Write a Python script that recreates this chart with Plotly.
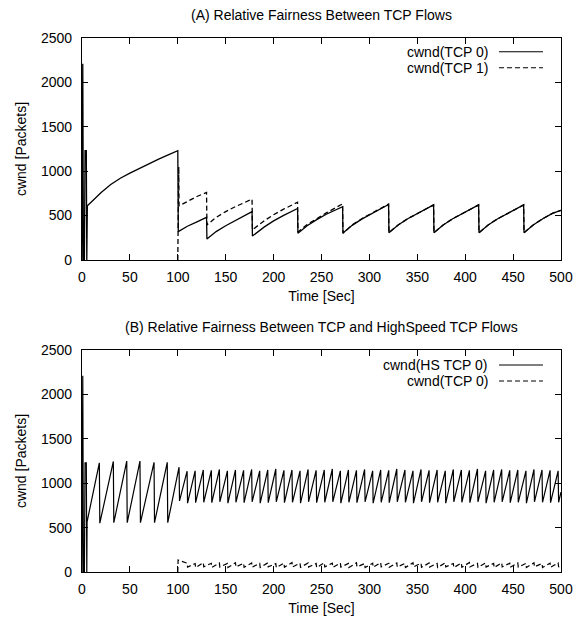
import plotly.graph_objects as go

# ---------------- (A) TCP vs TCP ----------------
tcp0_a_t = [0, 0.8, 1.5, 2.5, 3.2, 4.5, 5.0, 5.6,
            10, 20, 30, 40, 50, 60, 70, 80, 90, 100,
            100.5, 110, 120, 130,
            130.4, 140, 150, 160, 170, 177.5,
            177.9, 190, 200, 210, 225,
            225.4, 235, 245, 255, 265, 272,
            272.4, 282, 292, 302, 312, 320,
            320.4, 330, 340, 350, 360, 367,
            367.4, 377, 387, 397, 407, 414,
            414.4, 424, 434, 444, 454, 461,
            461.4, 471, 481, 491, 500]
tcp0_a_v = [0, 2210, 0, 0, 1230, 1230, 0, 610,
            655, 760, 850, 920, 978, 1032, 1085, 1135, 1183, 1230,
            320, 380, 430, 480,
            236, 320, 385, 445, 500, 545,
            270, 370, 440, 500, 580,
            300, 385, 455, 515, 570, 600,
            305, 390, 460, 520, 580, 625,
            308, 395, 465, 525, 580, 620,
            308, 395, 465, 525, 580, 620,
            308, 395, 465, 525, 580, 620,
            308, 395, 465, 525, 560]

tcp1_a_t = [100, 100.3, 101, 101.3, 110, 120, 130,
            130.4, 140, 150, 160, 170, 177.5,
            177.9, 190, 200, 210, 225,
            225.4, 235, 245, 255, 265, 272,
            272.4, 282, 292, 302, 312, 320,
            320.4, 330, 340, 350, 360, 367,
            367.4, 377, 387, 397, 407, 414,
            414.4, 424, 434, 444, 454, 461,
            461.4, 471, 481, 491, 500]
tcp1_a_v = [0, 1050, 1050, 610, 660, 715, 760,
            395, 480, 545, 600, 650, 685,
            340, 440, 510, 570, 650,
            315, 400, 470, 530, 590, 632,
            300, 395, 465, 525, 585, 630,
            308, 395, 465, 525, 580, 620,
            308, 395, 465, 525, 580, 620,
            308, 395, 465, 525, 580, 620,
            308, 395, 465, 525, 560]

# ---------------- (B) HighSpeed TCP vs TCP ----------------
hs_start_t = [0, 0.8, 1.5, 2.5, 3.2, 4.5, 5.0, 5.3]
hs_start_v = [0, 2210, 0, 0, 1230, 1230, 0, 565]

hs_peak_t = [18.1, 32.7, 46.7, 60.5, 75.2, 89.0,
             101.3, 109.7, 118.1, 126.6, 135.0, 143.4, 151.8, 160.2, 168.7, 177.1,
             185.5, 193.9, 202.3, 210.8, 219.2, 227.6, 236.0, 244.4, 252.9, 261.3,
             269.7, 278.1, 286.5, 295.0, 303.4, 311.8, 320.2, 328.6, 337.1, 345.5,
             353.9, 362.3, 370.7, 379.2, 387.6, 396.0, 404.4, 412.8, 421.3, 429.7,
             438.1, 446.5, 454.9, 463.4, 471.8, 480.2, 488.6, 497.0]
hs_peak_v = [1230, 1245, 1250, 1250, 1235, 1235,
             1180, 1135, 1140, 1150, 1145, 1155, 1140, 1150, 1145, 1155,
             1140, 1150, 1160, 1145, 1150, 1140, 1155, 1145, 1150, 1160,
             1140, 1150, 1145, 1155, 1140, 1150, 1145, 1160, 1150, 1140,
             1155, 1145, 1150, 1140, 1155, 1150, 1145, 1160, 1140, 1150,
             1155, 1145, 1150, 1140, 1155, 1150, 1145, 1140]
hs_low_v = [550, 555, 555, 555, 555, 555,
            800, 775, 780, 785, 780, 790, 775, 785, 780, 790,
            775, 780, 790, 780, 785, 775, 790, 780, 785, 790,
            775, 785, 780, 790, 775, 785, 780, 790, 785, 775,
            790, 780, 785, 775, 790, 785, 780, 790, 775, 785,
            790, 780, 785, 775, 790, 785, 780, 785]
hs_end_t = [500]
hs_end_v = [900]

tcp_b_start_t = [100, 100.3]
tcp_b_start_v = [0, 135]
tcp_b_peak_v = [100, 95, 105, 98, 102, 96, 104, 99, 101, 97,
                103, 95, 100, 106, 98, 102, 96, 104, 99, 101,
                97, 103, 95, 100, 106, 98, 102, 96, 104, 99,
                101, 97, 103, 95, 100, 106, 98, 102, 96, 104,
                99, 101, 97, 103, 95, 100, 102]
tcp_b_low_v = [55, 50, 58, 52, 56, 50, 57, 53, 55, 51,
               58, 50, 54, 57, 52, 56, 50, 57, 53, 55,
               51, 58, 50, 54, 57, 52, 56, 50, 57, 53,
               55, 51, 58, 50, 54, 57, 52, 56, 50, 57,
               53, 55, 51, 58, 50, 54, 56]
tcp_b_end_v = [80]

DROP = 0.5  # duration of a window reduction [s]

x_ticks = [0, 50, 100, 150, 200, 250, 300, 350, 400, 450, 500]
y_ticks = [0, 500, 1000, 1500, 2000, 2500]

# build sawtooth series from the read peaks / troughs
hs_x = list(hs_start_t)
hs_y = list(hs_start_v)
for t, p, l in zip(hs_peak_t, hs_peak_v, hs_low_v):
    hs_x += [t, t + DROP]
    hs_y += [p, l]
hs_x += hs_end_t
hs_y += hs_end_v

post = hs_peak_t[7:]
tb_x = list(tcp_b_start_t)
tb_y = list(tcp_b_start_v)
for t, p, l in zip(post, tcp_b_peak_v, tcp_b_low_v):
    tb_x += [t, t + DROP]
    tb_y += [p, l]
tb_x += hs_end_t
tb_y += tcp_b_end_v

FONT = "Liberation Sans, Arial, Helvetica, sans-serif"
BLK = "black"

fig = go.Figure()
fig.add_trace(go.Scatter(x=tcp0_a_t, y=tcp0_a_v, mode="lines", name="cwnd(TCP 0)",
                         line=dict(color=BLK, width=1.3), xaxis="x", yaxis="y",
                         showlegend=False))
fig.add_trace(go.Scatter(x=tcp1_a_t, y=tcp1_a_v, mode="lines", name="cwnd(TCP 1)",
                         line=dict(color=BLK, width=1.3, dash="5px,3px"), xaxis="x", yaxis="y",
                         showlegend=False))
fig.add_trace(go.Scatter(x=hs_x, y=hs_y, mode="lines", name="cwnd(HS TCP 0)",
                         line=dict(color=BLK, width=1.2), xaxis="x2", yaxis="y2",
                         showlegend=False))
fig.add_trace(go.Scatter(x=tb_x, y=tb_y, mode="lines", name="cwnd(TCP 0)",
                         line=dict(color=BLK, width=1.2, dash="5px,3px"), xaxis="x2", yaxis="y2",
                         showlegend=False))

def xax(anchor):
    return dict(range=[0, 500], tickvals=x_ticks, ticks="inside", ticklen=6, tickcolor=BLK,
                showline=True, linecolor=BLK, linewidth=1.2, mirror="ticks", showgrid=False,
                zeroline=False, anchor=anchor, domain=[0, 1], automargin=False,
                layer="above traces", ticklabelstandoff=4,
                tickfont=dict(family=FONT, size=14, color=BLK),
                title=dict(text="Time [Sec]", font=dict(family=FONT, size=14, color=BLK), standoff=7))

def yax(anchor, dom):
    return dict(range=[0, 2500], tickvals=y_ticks, ticks="inside", ticklen=6, tickcolor=BLK,
                showline=True, linecolor=BLK, linewidth=1.2, mirror="ticks", showgrid=False,
                zeroline=False, anchor=anchor, domain=dom, automargin=False,
                layer="above traces", ticklabelstandoff=6,
                tickfont=dict(family=FONT, size=14, color=BLK),
                title=dict(text="cwnd [Packets]", font=dict(family=FONT, size=14, color=BLK), standoff=11))

# page body has an 8px margin: figure is sized so that the plot areas land where the reference has them
fig.update_layout(
    width=573, height=609,
    margin=dict(l=74, r=20, t=30, b=45, autoexpand=False),
    paper_bgcolor="white", plot_bgcolor="white",
    xaxis=xax("y"), yaxis=yax("x", [0.5843, 1.0]),
    xaxis2=xax("y2"), yaxis2=yax("x2", [0.0, 0.4157]),
    showlegend=False,
    font=dict(family=FONT, size=14, color=BLK),
)

# subplot titles
fig.add_annotation(text="(A) Relative Fairness Between TCP Flows", xref="paper", yref="paper",
                   x=0.5, y=1.043, yanchor="middle", showarrow=False,
                   font=dict(family=FONT, size=14, color=BLK))
fig.add_annotation(text="(B) Relative Fairness Between TCP and HighSpeed TCP Flows", xref="paper",
                   yref="paper", x=0.5, y=0.4588, yanchor="middle", showarrow=False,
                   font=dict(family=FONT, size=14, color=BLK))

# gnuplot-style keys (text right-aligned, sample to the right)
keys = [("x domain", "y domain", [("cwnd(TCP 0)", 0.938, "solid"), ("cwnd(TCP 1)", 0.866, "5px,3px")]),
        ("x2 domain", "y2 domain", [("cwnd(HS TCP 0)", 0.9324, "solid"), ("cwnd(TCP 0)", 0.8604, "5px,3px")])]
for xr, yr, rows in keys:
    for label, yy, dash in rows:
        fig.add_annotation(text=label, xref=xr, yref=yr, x=0.8497, y=yy, xanchor="right",
                           yanchor="middle", showarrow=False, borderpad=0,
                           font=dict(family=FONT, size=14, color=BLK))
        fig.add_shape(type="line", xref=xr, yref=yr, x0=0.8706, x1=0.9624, y0=yy, y1=yy,
                      line=dict(color=BLK, width=1.2, dash=dash))

fig.write_html("out.html")
